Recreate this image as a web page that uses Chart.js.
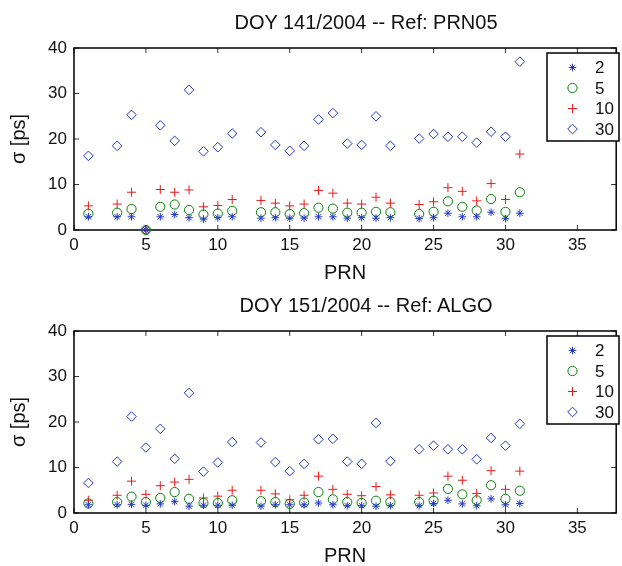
<!DOCTYPE html>
<html>
<head>
<meta charset="utf-8">
<script src="https://cdn.jsdelivr.net/npm/chart.js"></script>
<style>
  html, body { margin: 0; padding: 0; background: #fff; }
  #wrap { position: relative; width: 622px; height: 566px; overflow: hidden; }
  #wrap canvas { position: absolute; left: 0; }
  .ttl {
    position: absolute; left: 0; width: 732px; text-align: center;
    font: 20px 'Liberation Sans', Arial, sans-serif; line-height: 24px;
    color: #111; white-space: nowrap;
  }
</style>
</head>
<body>
<div id="wrap">
  <canvas id="chart141" width="622" height="300" style="top:0"></canvas>
  <canvas id="chart151" width="622" height="300" style="top:283px"></canvas>
  <div class="ttl" style="top:10px">DOY 141/2004 -- Ref: PRN05</div>
  <div class="ttl" style="top:293px">DOY 151/2004 -- Ref: ALGO</div>
</div>
<script>
// PRNs present in both days (no 12, 23)
const prn = [1, 3, 4, 5, 6, 7, 8, 9, 10, 11, 13, 14, 15, 16, 17, 18, 19, 20, 21, 22, 24, 25, 26, 27, 28, 29, 30, 31];
const seriesLabels = ['2', '5', '10', '30'];
const xTicks = [0, 5, 10, 15, 20, 25, 30, 35];
const yTicks = [0, 10, 20, 30, 40];

// DOY 141/2004, reference PRN05
const sig2_141 = [2.9, 2.9, 2.9, 0, 2.9, 3.4, 2.7, 2.4, 2.7, 2.9, 2.6, 2.7, 2.6, 2.6, 2.9, 2.9, 2.6, 2.7, 2.6, 2.7, 2.5, 2.7, 3.7, 2.9, 2.9, 3.9, 2.5, 3.7];
const sig5_141 = [3.6, 3.8, 4.6, 0, 5.1, 5.6, 4.4, 3.4, 3.6, 4.2, 3.9, 3.9, 3.5, 3.7, 4.9, 4.7, 3.8, 3.8, 4.0, 3.9, 3.5, 4.0, 6.3, 5.1, 4.3, 6.8, 4.0, 8.3];
const sig10_141 = [5.3, 5.7, 8.3, 0, 8.9, 8.3, 8.8, 5.1, 5.4, 6.7, 6.5, 5.9, 5.3, 5.7, 8.7, 8.1, 5.9, 5.7, 7.2, 5.9, 5.6, 6.2, 9.3, 8.5, 6.4, 10.2, 6.7, 16.7];
const sig30_141 = [16.3, 18.5, 25.3, 0, 23.0, 19.6, 30.8, 17.3, 18.2, 21.2, 21.5, 18.7, 17.4, 18.5, 24.3, 25.7, 19.0, 18.7, 25.0, 18.5, 20.1, 21.1, 20.5, 20.5, 19.2, 21.6, 20.5, 37.0];

// DOY 151/2004, reference ALGO
const sig2_151 = [1.8, 1.8, 1.9, 1.7, 2.0, 2.5, 1.5, 1.7, 1.7, 1.7, 1.5, 1.8, 1.8, 1.8, 2.2, 1.8, 1.6, 1.6, 1.5, 1.6, 1.6, 2.1, 2.8, 2.0, 1.6, 3.1, 1.8, 2.1];
const sig5_151 = [2.1, 2.4, 3.6, 2.4, 3.3, 4.6, 3.1, 2.2, 2.2, 2.8, 2.6, 2.4, 2.0, 2.3, 4.6, 3.0, 2.4, 2.2, 2.7, 2.4, 2.4, 2.7, 5.3, 4.1, 2.8, 6.1, 3.1, 4.9];
const sig10_151 = [2.8, 3.9, 7.0, 4.1, 6.0, 6.8, 7.4, 3.3, 3.7, 5.0, 5.0, 4.2, 2.9, 3.9, 8.1, 5.2, 4.1, 3.8, 5.8, 4.0, 3.9, 4.4, 8.1, 7.2, 4.3, 9.3, 5.2, 9.2];
const sig30_151 = [6.6, 11.3, 21.2, 14.4, 18.5, 11.9, 26.4, 9.1, 11.1, 15.6, 15.5, 11.2, 9.2, 10.8, 16.2, 16.3, 11.3, 10.8, 19.8, 11.4, 14.0, 14.8, 14.0, 14.0, 11.8, 16.5, 14.8, 19.6];

const blue = 'rgb(35, 55, 195)';
const green = 'rgb(10, 130, 10)';
const red = 'rgb(235, 25, 25)';
const fontFam = "'Liberation Sans', Arial, sans-serif";

Chart.defaults.font.family = fontFam;
Chart.defaults.color = '#111';

const pts = (ys) => prn.map((p, i) => ({ x: p, y: ys[i] }));

// matlab style box with inward ticks on all four sides
const boxPlugin = {
  id: 'matlabBox',
  beforeDatasetsDraw(chart) {
    const { ctx, chartArea: a, scales: { x, y } } = chart;
    const tl = 5;
    ctx.save();
    ctx.strokeStyle = '#333';
    ctx.lineWidth = 1;
    ctx.beginPath();
    xTicks.forEach(v => {
      const px = x.getPixelForValue(v);
      ctx.moveTo(px, a.bottom); ctx.lineTo(px, a.bottom - tl);
      ctx.moveTo(px, a.top); ctx.lineTo(px, a.top + tl);
    });
    yTicks.forEach(v => {
      const py = y.getPixelForValue(v);
      ctx.moveTo(a.left, py); ctx.lineTo(a.left + tl, py);
      ctx.moveTo(a.right, py); ctx.lineTo(a.right - tl, py);
    });
    ctx.stroke();
    ctx.strokeStyle = '#000';
    ctx.lineWidth = 1.5;
    ctx.strokeRect(a.left, a.top, a.right - a.left, a.bottom - a.top);
    ctx.restore();
  }
};

// legend drawn inside the axes, top right, with a frame
const boxLegend = {
  id: 'boxLegend',
  afterDatasetsDraw(chart) {
    const { ctx } = chart;
    const bx = 547, by = 53, bw = 72, bh = 88;
    ctx.save();
    ctx.fillStyle = '#fff';
    ctx.fillRect(bx, by, bw, bh);
    ctx.strokeStyle = '#000';
    ctx.lineWidth = 1.5;
    ctx.strokeRect(bx, by, bw, bh);
    ctx.font = '17px ' + fontFam;
    ctx.textBaseline = 'middle';
    ctx.textAlign = 'left';
    chart.data.datasets.forEach((ds, i) => {
      const cy = by + 14.5 + i * 20.5;
      ctx.strokeStyle = ds.borderColor;
      ctx.fillStyle = 'rgba(0,0,0,0)';
      ctx.lineWidth = 1;
      Chart.helpers.drawPoint(ctx, { pointStyle: ds.pointStyle, radius: ds.pointRadius, borderWidth: 1, rotation: 0 }, 572.5, cy);
      ctx.fillStyle = '#111';
      ctx.fillText(ds.label, 595, cy + 1);
    });
    ctx.restore();
  }
};

function makeChart(id, s2, s5, s10, s30) {
  const common = { backgroundColor: 'rgba(0,0,0,0)', borderWidth: 1, clip: false, pointHoverRadius: 0 };
  return new Chart(document.getElementById(id), {
    type: 'scatter',
    data: {
      datasets: [
        { ...common, label: seriesLabels[0], data: pts(s2), pointStyle: 'star', pointRadius: 3.8, borderColor: blue },
        { ...common, label: seriesLabels[1], data: pts(s5), pointStyle: 'circle', pointRadius: 4.6, borderColor: green },
        { ...common, label: seriesLabels[2], data: pts(s10), pointStyle: 'cross', pointRadius: 4.5, borderColor: red },
        { ...common, label: seriesLabels[3], data: pts(s30), pointStyle: 'rectRot', pointRadius: 4.8, borderColor: blue }
      ]
    },
    options: {
      responsive: false,
      animation: false,
      events: [],
      layout: { padding: { top: 48, right: 1, bottom: 0, left: 0 } },
      plugins: { legend: { display: false }, tooltip: { enabled: false } },
      scales: {
        x: {
          type: 'linear', min: 0, max: 37.7,
          afterFit: s => { s.height = 70; },
          afterBuildTicks: s => { s.ticks = xTicks.map(v => ({ value: v })); },
          grid: { display: false, drawTicks: false },
          border: { display: false },
          ticks: { padding: 5, color: '#111', font: { size: 17 } },
          title: { display: true, text: 'PRN', color: '#111', font: { size: 20 }, padding: { top: 0, bottom: 15 } }
        },
        y: {
          type: 'linear', min: 0, max: 40,
          afterFit: s => { s.width = 74; },
          afterBuildTicks: s => { s.ticks = yTicks.map(v => ({ value: v })); },
          grid: { display: false, drawTicks: false },
          border: { display: false },
          ticks: { padding: 7, color: '#111', font: { size: 17 } },
          title: { display: true, text: 'σ [ps]', color: '#111', font: { size: 20 }, padding: { top: 7, bottom: 0 } }
        }
      }
    },
    plugins: [boxPlugin, boxLegend]
  });
}

makeChart('chart141', sig2_141, sig5_141, sig10_141, sig30_141);
makeChart('chart151', sig2_151, sig5_151, sig10_151, sig30_151);
</script>
</body>
</html>
